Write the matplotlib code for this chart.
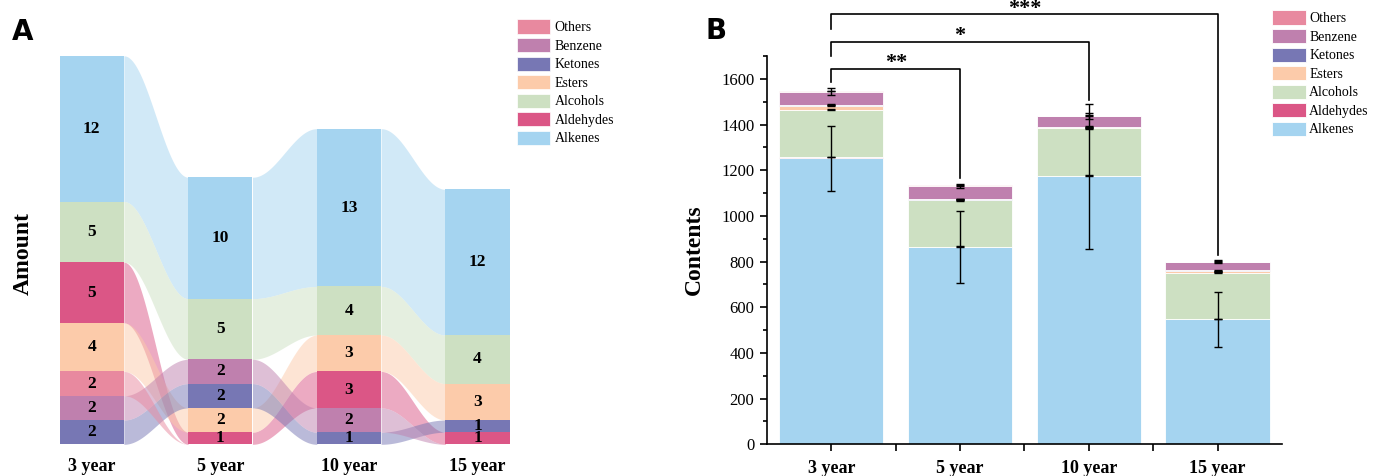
import numpy as np
import matplotlib
matplotlib.use('Agg')
import matplotlib.pyplot as plt
from matplotlib.patches import Patch

plt.rcParams['font.family'] = ['Liberation Serif', 'DejaVu Serif']

years = ['3 year', '5 year', '10 year', '15 year']
categories = ['Alkenes', 'Aldehydes', 'Alcohols', 'Esters', 'Ketones', 'Benzene', 'Others']
colors = ['#a5d4f0', '#db5686', '#cde0c2', '#fccbaa', '#7777b4', '#bf80ae', '#e8899f']

# panel A: number of compounds per class
amount_alkenes = [12, 10, 13, 12]
amount_aldehydes = [5, 1, 3, 1]
amount_alcohols = [5, 5, 4, 4]
amount_esters = [4, 2, 3, 3]
amount_ketones = [2, 2, 1, 1]
amount_benzene = [2, 2, 2, 0]
amount_others = [2, 0, 0, 0]

# panel B: contents per class
cont_alkenes = [1252, 864, 1173, 548]
cont_aldehydes = [6, 1, 3, 1]
cont_alcohols = [206, 204, 208, 203]
cont_esters = [18, 2, 3, 5]
cont_ketones = [5, 3, 4, 4]
cont_benzene = [57, 57, 46, 38]
cont_others = [3, 2, 2, 1]

err_alkenes = [143, 156, 318, 120]
err_aldehydes = [1, 1, 1, 1]
err_alcohols = [2, 2, 2, 2]
err_esters = [3, 2, 2, 2]
err_ketones = [2, 2, 2, 2]
err_benzene = [15, 7, 12, 6]
err_others = [1, 1, 1, 1]

# significance brackets: (left bar, right bar, height, left leg end, right leg end, label)
sig_pairs = [(0, 1, 1644, 1584, 1165, '**'),
             (0, 2, 1761, 1701, 1508, '*'),
             (0, 3, 1882, 1818, 829, '***')]

amount = np.array([amount_alkenes, amount_aldehydes, amount_alcohols, amount_esters,
                   amount_ketones, amount_benzene, amount_others], dtype=float)
contents = np.array([cont_alkenes, cont_aldehydes, cont_alcohols, cont_esters,
                     cont_ketones, cont_benzene, cont_others], dtype=float)
errors = np.array([err_alkenes, err_aldehydes, err_alcohols, err_esters,
                   err_ketones, err_benzene, err_others], dtype=float)

fig = plt.figure(figsize=(13.73, 4.76), dpi=100)

# ---------------- panel A: alluvial ----------------
axA = fig.add_axes([0.01996, 0.0666, 0.3747, 0.8926])
node_w = 0.5
n_cat, n_year = amount.shape

# stack each column in ascending order (ties by category index)
bottoms = np.zeros_like(amount)
for j in range(n_year):
    order = sorted(range(n_cat), key=lambda c: (amount[c, j], c))
    b = 0
    for c in order:
        bottoms[c, j] = b
        b += amount[c, j]

# flows
t = np.linspace(0, 1, 120)
s = (1 - np.cos(np.pi * t)) / 2
for j in range(n_year - 1):
    for c in range(n_cat):
        if amount[c, j] == 0 and amount[c, j + 1] == 0:
            continue
        x = j + node_w / 2 + (1 - node_w) * t
        lo = bottoms[c, j] + (bottoms[c, j + 1] - bottoms[c, j]) * s
        top0 = bottoms[c, j] + amount[c, j]
        top1 = bottoms[c, j + 1] + amount[c, j + 1]
        hi = top0 + (top1 - top0) * s
        axA.fill_between(x, lo, hi, color=colors[c], alpha=0.5, lw=0)

# nodes
for c in range(n_cat):
    axA.bar(range(n_year), amount[c], bottom=bottoms[c], width=node_w,
            color=colors[c], lw=0)
    for j in range(n_year):
        if amount[c, j] > 0:
            axA.text(j, bottoms[c, j] + amount[c, j] / 2, '%d' % amount[c, j],
                     ha='center', va='center', fontsize=12.5, fontweight='bold')

axA.set_xlim(-0.5, 3.5)
axA.set_ylim(0, 35)
for sp in axA.spines.values():
    sp.set_visible(False)
axA.set_yticks([])
axA.set_xticks(range(n_year))
axA.set_xticklabels(years, fontsize=13, fontweight='bold')
axA.tick_params(axis='x', length=0, pad=10)
axA.set_ylabel('Amount', fontsize=17, fontweight='bold', labelpad=0)
axA.yaxis.set_label_coords(0.012, 0.45)

handlesA = [Patch(facecolor=colors[c], edgecolor='white', lw=0.5) for c in range(n_cat)][::-1]
fig.legend(handlesA, categories[::-1], loc='upper left',
           bbox_to_anchor=(517 / 1373, 1 - 19.5 / 476), frameon=False, fontsize=10,
           borderpad=0, borderaxespad=0, handlelength=2.37, handleheight=1.19,
           handletextpad=0.35, labelspacing=0.27)

# ---------------- panel B: stacked bars ----------------
axB = fig.add_axes([0.5586, 0.0666, 0.3751, 0.8158])
xpos = np.arange(n_year)
cum = np.zeros(n_year)
for c in range(n_cat):
    axB.bar(xpos, contents[c], bottom=cum, width=0.81, color=colors[c],
            edgecolor='white', lw=0.6, label=categories[c])
    cum = cum + contents[c]
    axB.errorbar(xpos, cum, yerr=errors[c], fmt='none', ecolor='black',
                 elinewidth=1, capsize=3, capthick=1)

axB.set_xlim(-0.5, 3.5)
axB.set_ylim(0, 1700)
axB.set_yticks(np.arange(0, 1601, 200))
axB.set_yticks(np.arange(0, 1701, 100), minor=True)
axB.set_xticks(xpos)
axB.set_xticks(xpos[:-1] + 0.5, minor=True)
axB.set_xticklabels(years, fontsize=13, fontweight='bold')
axB.tick_params(axis='y', labelsize=12, direction='out', length=5, width=1.2, pad=4)
axB.tick_params(axis='y', which='minor', length=3, width=1.2)
axB.tick_params(axis='x', direction='out', length=5, width=1.2, pad=6)
axB.tick_params(axis='x', which='minor', length=5, width=1.2)
axB.spines['top'].set_visible(False)
axB.spines['right'].set_visible(False)
axB.spines['left'].set_linewidth(1.2)
axB.spines['bottom'].set_linewidth(1.2)
axB.set_ylabel('Contents', fontsize=17, fontweight='bold', labelpad=12)

for a, b, h, la, lb, lab in sig_pairs:
    axB.plot([a, a, b, b], [la, h, h, lb], color='black', lw=1.2, clip_on=False)
    axB.text((a + b) / 2, h - 18, lab, ha='center', va='bottom', fontsize=16,
             fontweight='bold', clip_on=False)

hB, lB = axB.get_legend_handles_labels()
fig.legend(hB[::-1], lB[::-1], loc='upper left',
           bbox_to_anchor=(1271.7 / 1373, 1 - 10.5 / 476), frameon=False, fontsize=10,
           borderpad=0, borderaxespad=0, handlelength=2.45, handleheight=1.19,
           handletextpad=0.25, labelspacing=0.27)

# panel letters
fig.text(12 / 1373, 1 - 40 / 476, 'A', fontsize=20, fontweight='heavy',
         family='DejaVu Sans', va='baseline')
fig.text(705 / 1373, 1 - 39 / 476, 'B', fontsize=20, fontweight='heavy',
         family='DejaVu Sans', va='baseline')

fig.savefig('out.png', dpi=100)
